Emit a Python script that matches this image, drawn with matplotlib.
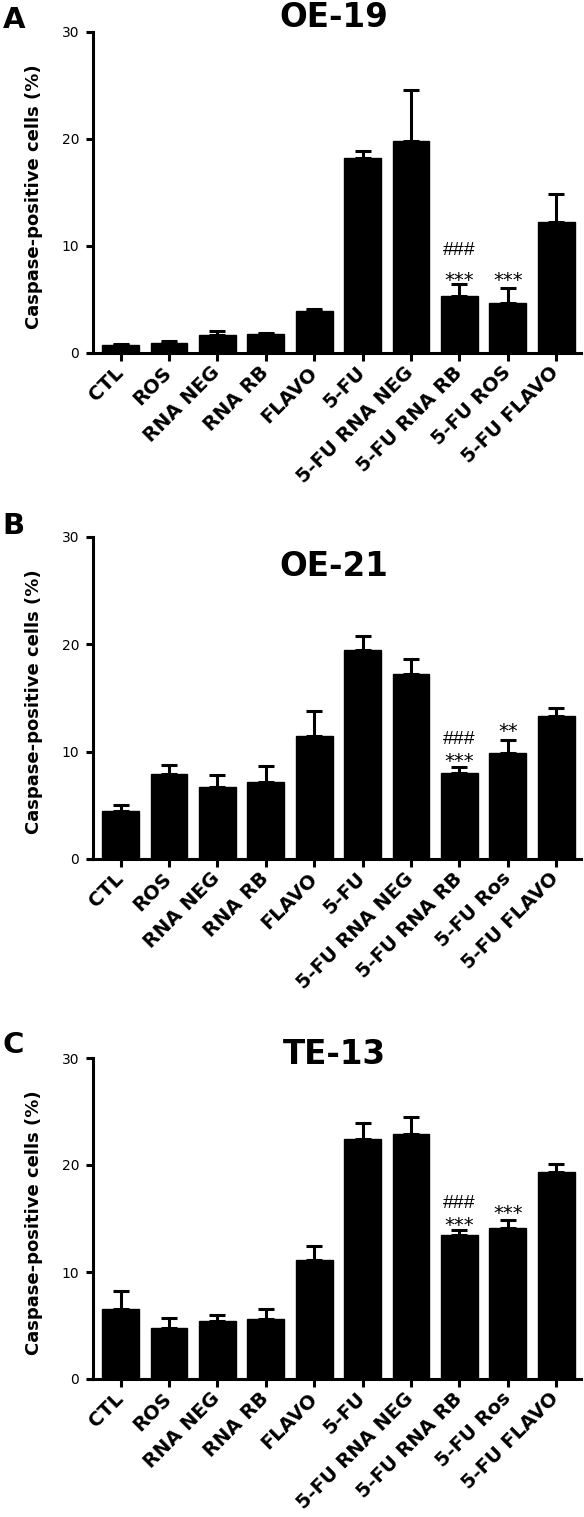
import matplotlib.pyplot as plt
from matplotlib.transforms import offset_copy

plt.rcParams['font.family'] = ['DejaVu Sans']

labels_a = ['CTL', 'ROS', 'RNA NEG', 'RNA RB', 'FLAVO', '5-FU',
            '5-FU RNA NEG', '5-FU RNA RB', '5-FU ROS', '5-FU FLAVO']
labels_bc = ['CTL', 'ROS', 'RNA NEG', 'RNA RB', 'FLAVO', '5-FU',
             '5-FU RNA NEG', '5-FU RNA RB', '5-FU Ros', '5-FU FLAVO']

oe19_mean = [0.7, 0.9, 1.7, 1.75, 3.9, 18.2, 19.8, 5.3, 4.65, 12.2]
oe19_sem = [0.1, 0.2, 0.35, 0.15, 0.2, 0.65, 4.7, 1.15, 1.4, 2.6]

oe21_mean = [4.5, 7.95, 6.7, 7.2, 11.5, 19.5, 17.2, 8.05, 9.9, 13.3]
oe21_sem = [0.5, 0.8, 1.1, 1.45, 2.3, 1.3, 1.4, 0.5, 1.15, 0.8]

te13_mean = [6.5, 4.8, 5.4, 5.6, 11.15, 22.4, 22.9, 13.5, 14.1, 19.35]
te13_sem = [1.75, 0.9, 0.6, 0.95, 1.3, 1.5, 1.55, 0.4, 0.75, 0.7]

# significance marks: (bar index, text, y of the mark centre)
oe19_marks = [(7, '###', 9.8), (7, '***', 7.3), (8, '***', 7.3)]
oe21_marks = [(7, '###', 11.4), (7, '***', 9.6), (8, '**', 12.4)]
te13_marks = [(7, '###', 16.6), (7, '***', 14.9), (8, '***', 16.0)]

W, H = 584, 1517
fig = plt.figure(figsize=(W / 100, H / 100), dpi=100)

# letter, title, labels, means, sems, marks, y of 0, y of 30, letter xy, title y (pixels)
panels = [
    ('A', 'OE-19', labels_a, oe19_mean, oe19_sem, oe19_marks, 353, 31.5, (14, 20), 17.5),
    ('B', 'OE-21', labels_bc, oe21_mean, oe21_sem, oe21_marks, 859, 537, (13, 526), 566),
    ('C', 'TE-13', labels_bc, te13_mean, te13_sem, te13_marks, 1379, 1058, (13, 1045), 1055),
]

x_left, x_right = 88.5, 580.6
for letter, title, labels, mean, sem, marks, y0, y30, lpos, ty in panels:
    ax = fig.add_axes([x_left / W, 1 - y0 / H, (x_right - x_left) / W, (y0 - y30) / H])
    x = list(range(len(mean)))
    ax.bar(x, mean, width=0.76, color='black', edgecolor='black', zorder=3)
    ax.errorbar(x, mean, yerr=[[0] * len(sem), sem], fmt='none', ecolor='black',
                elinewidth=2.2, capsize=5.5, capthick=2.2, zorder=2)
    ax.set_xlim(-0.663, 9.504)
    ax.set_ylim(0, 30)
    ax.set_yticks([0, 10, 20, 30])
    ax.set_xticks(x)
    ax.set_xticklabels(labels, rotation=45, ha='right', va='center',
                       rotation_mode='anchor', fontsize=14, fontweight='bold')
    for t in ax.get_yticklabels():
        t.set_fontsize(12)
        t.set_fontweight('bold')
    ax.spines['top'].set_visible(False)
    ax.spines['right'].set_visible(False)
    ax.spines['left'].set_position(('data', -0.57))
    ax.spines['left'].set_linewidth(2.2)
    ax.spines['bottom'].set_linewidth(2.2)
    ax.tick_params(axis='y', width=2.2, length=5, pad=5)
    ax.tick_params(axis='x', width=2.2, length=6, pad=6)
    ax.text(-0.1116, 0.487, 'Caspase-positive cells (%)', transform=ax.transAxes,
            rotation=90, ha='center', va='center', fontsize=13, fontweight='bold')
    for i, txt, yy in marks:
        if txt.startswith('#'):
            tr = offset_copy(ax.transData, fig=fig, y=-5.0, units='points')
            ax.text(i, yy, txt, ha='center', va='baseline', fontsize=14,
                    family='Liberation Sans', transform=tr)
        else:
            tr = offset_copy(ax.transData, fig=fig, y=-8.0, units='points')
            ax.text(i, yy, txt, ha='center', va='baseline', fontsize=14, transform=tr)
    fig.text(334 / W, 1 - ty / H, title, ha='center', va='center',
             fontsize=23.5, fontweight='bold')
    fig.text(lpos[0] / W, 1 - lpos[1] / H, letter, ha='center', va='center',
             fontsize=21, fontweight='bold')

fig.savefig('out.png', dpi=100)
